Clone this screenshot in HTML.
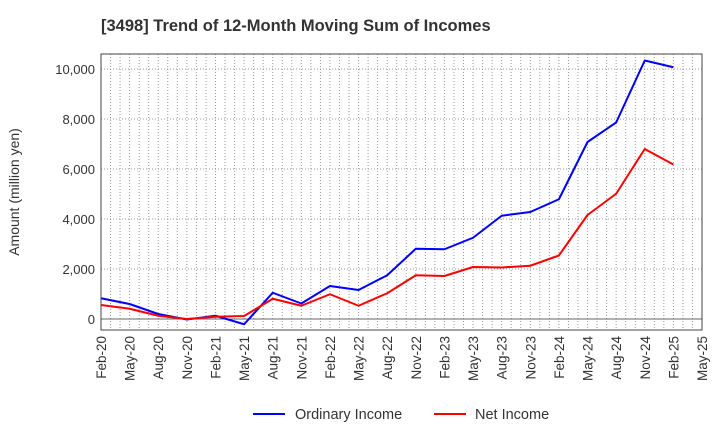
<!DOCTYPE html>
<html><head><meta charset="utf-8"><style>
body{margin:0;background:#fff;}
svg{display:block;font-family:"Liberation Sans",Arial,sans-serif;}
</style></head><body>
<svg id="chart" width="720" height="440">
<text x="101" y="31" font-size="16.5" font-weight="bold" fill="#333">[3498]  Trend of 12-Month Moving Sum of Incomes</text>
<text transform="translate(19,192) rotate(-90)" text-anchor="middle" font-size="14" fill="#333">Amount (million yen)</text>
<g id="grid"></g><g id="series"></g><g id="axes"></g>
<g>
<line x1="253" y1="414" x2="285" y2="414" stroke="#0000ff" stroke-width="2"/>
<text x="295" y="419" font-size="14.5" fill="#333">Ordinary Income</text>
<line x1="434" y1="414" x2="466" y2="414" stroke="#ff0000" stroke-width="2"/>
<text x="475" y="419" font-size="14.5" fill="#333">Net Income</text>
</g>
</svg>
<script>
const categories=["Feb-20","May-20","Aug-20","Nov-20","Feb-21","May-21","Aug-21","Nov-21","Feb-22","May-22","Aug-22","Nov-22","Feb-23","May-23","Aug-23","Nov-23","Feb-24","May-24","Aug-24","Nov-24","Feb-25","May-25"];
const ordinaryIncome=[830,600,200,-20,130,-210,1050,620,1320,1160,1750,2810,2790,3250,4130,4280,4790,7080,7860,10340,10070];
const netIncome=[560,410,130,0,90,120,810,530,990,530,1030,1750,1720,2080,2060,2130,2540,4160,5010,6800,6180];
const yTicks=[0,2000,4000,6000,8000,10000];
const yTickLabels=["0","2,000","4,000","6,000","8,000","10,000"];
const L=101,R=702,T=54,B=330,NS="http://www.w3.org/2000/svg";
const xStep=(R-L)/(categories.length-1);
const xs=i=>L+i*xStep, ys=v=>319-v*0.025;
function mk(tag,attrs,parent){const e=document.createElementNS(NS,tag);for(const k in attrs)e.setAttribute(k,attrs[k]);parent.appendChild(e);return e;}
const grid=document.getElementById('grid'),axes=document.getElementById('axes'),ser=document.getElementById('series');
for(let m=1;m<(categories.length-1)*3;m++){const x=L+m*xStep/3;
const g=mk('line',{x1:x,x2:x,y1:T,y2:B,stroke:'#999','stroke-dasharray':'1,2','stroke-width':1},grid);

}
yTicks.forEach((v,i)=>{const y=ys(v);
const g=mk('line',{x1:L,x2:R,y1:y,y2:y,stroke:v===0?'#666':'#999','stroke-dasharray':v===0?'none':'1,2','stroke-width':1},grid);


const t=mk('text',{x:L-6,y:y+5,'text-anchor':'end','font-size':13,fill:'#333'},axes);t.textContent=yTickLabels[i];

});
const fr=mk('rect',{x:L,y:T,width:R-L,height:B-T,fill:'none',stroke:'#444','stroke-width':1},axes);


categories.forEach((c,i)=>{const x=xs(i);
const t=mk('text',{transform:`translate(${x+5},${B+6}) rotate(-90)`,'text-anchor':'end','font-size':13.5,fill:'#333'},axes);t.textContent=c;

});
function line(data,color,name){const p=mk('polyline',{points:data.map((v,i)=>xs(i)+','+ys(v)).join(' '),fill:'none',stroke:color,'stroke-width':2,'stroke-linejoin':'round'},ser);

}
line(ordinaryIncome,'#0000ff','ordinary-income-line');
line(netIncome,'#ff0000','net-income-line');
</script>
</body></html>
